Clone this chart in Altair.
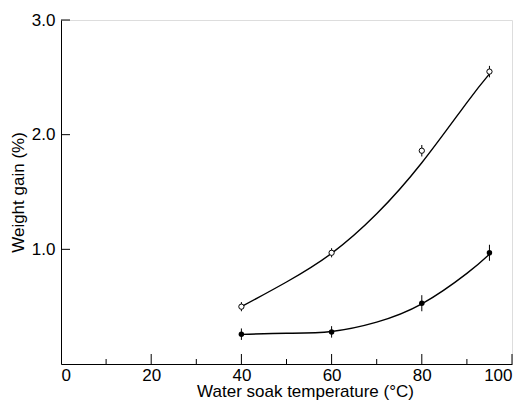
import altair as alt
import pandas as pd

# measured points
temp = [40, 60, 80, 95]
open_gain = [0.50, 0.97, 1.86, 2.55]
open_err = [0.04, 0.04, 0.05, 0.05]
filled_gain = [0.26, 0.28, 0.53, 0.97]
filled_err = [0.05, 0.05, 0.07, 0.07]

# fitted curves
curve_t = [40, 50, 60, 70, 80, 90, 95]
open_curve = [0.50, 0.715, 0.965, 1.31, 1.755, 2.28, 2.53]
filled_curve = [0.258, 0.268, 0.284, 0.365, 0.524, 0.79, 0.957]

x_major = [0, 20, 40, 60, 80, 100]
x_minor = [10, 30, 50, 70, 90]
y_major = [1.0, 2.0, 3.0]

FONT = "Liberation Sans"

pts = pd.DataFrame({
    "t": temp * 2,
    "g": open_gain + filled_gain,
    "lo": [g - e for g, e in zip(open_gain, open_err)] + [g - e for g, e in zip(filled_gain, filled_err)],
    "hi": [g + e for g, e in zip(open_gain, open_err)] + [g + e for g, e in zip(filled_gain, filled_err)],
    "s": ["open"] * 4 + ["filled"] * 4,
})
curves = pd.DataFrame({
    "t": curve_t * 2,
    "g": open_curve + filled_curve,
    "s": ["open"] * len(curve_t) + ["filled"] * len(curve_t),
})

xs = alt.Scale(domain=[0, 100], nice=False, zero=False)
ys = alt.Scale(domain=[0, 3.0], nice=False, zero=True)

xax = alt.Axis(values=x_major, ticks=False, labelPadding=3, domainColor="black",
               labelFont=FONT, labelFontSize=17, labelColor="black",
               titleFont=FONT, titleFontSize=17, titleFontWeight="normal",
               titleColor="black", titlePadding=0, titleX=244, titleAlign="center",
               grid=False)
yax = alt.Axis(values=y_major, format=".1f", ticks=False, labelPadding=6,
               domainColor="black",
               labelFont=FONT, labelFontSize=17, labelColor="black",
               titleFont=FONT, titleFontSize=17, titleFontWeight="normal",
               titleColor="black", titlePadding=4, grid=False)

base_x = alt.X("t:Q", scale=xs, axis=xax, title="Water soak temperature (°C)")
base_y = alt.Y("g:Q", scale=ys, axis=yax, title="Weight gain (%)")

lines = alt.Chart(curves).mark_line(color="black", strokeWidth=1.4, interpolate="natural").encode(
    x=base_x, y=base_y, detail="s:N")

err = alt.Chart(pts).mark_rule(color="black", strokeWidth=1).encode(
    x="t:Q", y="lo:Q", y2="hi:Q")

open_pts = alt.Chart(pts[pts.s == "open"]).mark_point(
    shape="circle", filled=True, fill="white", stroke="black", strokeWidth=1, size=28, opacity=1
).encode(x="t:Q", y="g:Q")

filled_pts = alt.Chart(pts[pts.s == "filled"]).mark_point(
    shape="circle", filled=True, color="black", size=30, opacity=1
).encode(x="t:Q", y="g:Q")

xmaj = alt.Chart(pd.DataFrame({"t": x_major[1:]})).mark_rule(
    color="black", strokeWidth=1, y2Offset=-10).encode(x="t:Q", y=alt.datum(0), y2=alt.datum(0))
xmin = alt.Chart(pd.DataFrame({"t": x_minor})).mark_rule(
    color="black", strokeWidth=1, y2Offset=-5).encode(x="t:Q", y=alt.datum(0), y2=alt.datum(0))
ytk = alt.Chart(pd.DataFrame({"g": y_major})).mark_rule(
    color="black", strokeWidth=1, x2Offset=9).encode(y="g:Q", x=alt.datum(0), x2=alt.datum(0))

chart = alt.layer(lines, err, open_pts, filled_pts, xmaj, xmin, ytk).properties(
    width=451, height=344,
    autosize=alt.AutoSizeParams(type="none"),
    padding={"left": 53, "top": 12, "right": 11, "bottom": 37},
).configure_view(stroke=None).configure(background="white")

chart.save("out.html", embed_options={"renderer": "svg", "actions": False})
